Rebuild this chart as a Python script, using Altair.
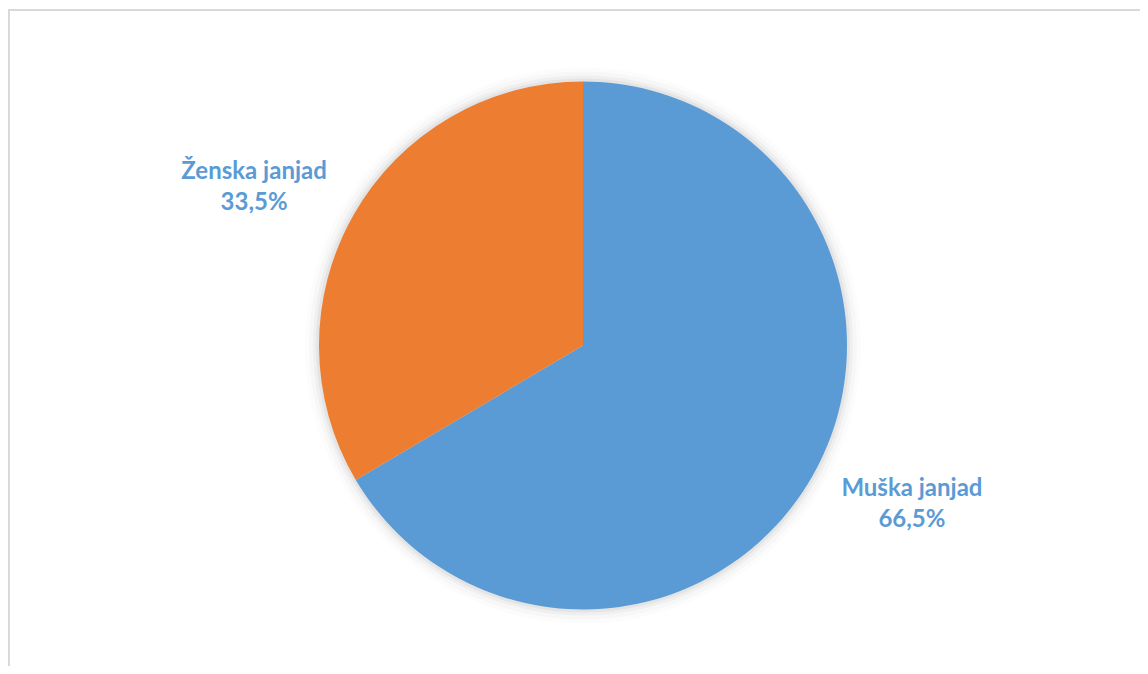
import altair as alt
import pandas as pd

categories = ["Muška janjad", "Ženska janjad"]
shares = [66.5, 33.5]
pct_labels = ["66,5%", "33,5%"]
colors = ["#5B9BD5", "#ED7D31"]

df = pd.DataFrame({
    "category": categories,
    "share": shares,
    "idx": list(range(len(categories))),
    "label": [f"{c}\n{p}" for c, p in zip(categories, pct_labels)],
})

base = alt.Chart(df).encode(
    theta=alt.Theta("share:Q", stack=True),
    order=alt.Order("idx:Q"),
)

one = pd.DataFrame({"v": [1]})
glows = [
    alt.Chart(one).mark_arc(radius=r, color="#000000", opacity=o, theta=0, theta2=6.2832).encode(
        x=alt.value(557), y=alt.value(320.5)
    )
    for r, o in [(278, 0.012), (274, 0.02), (270, 0.03), (267, 0.045)]
]

pie = base.mark_arc(radius=264).encode(
    color=alt.Color("category:N", scale=alt.Scale(domain=categories, range=colors), legend=None)
)

labels = base.mark_text(
    radius=365, thetaOffset=-0.07, dy=-15, font="Lato", fontSize=24, fontWeight="bold", color="#5B9BD5",
    lineBreak="\n", lineHeight=31, align="center", baseline="middle"
).encode(text="label:N")

top_rule = alt.Chart(one).mark_rule(color="#d9d9d9", strokeWidth=2).encode(
    x=alt.value(-18), x2=alt.value(1114), y=alt.value(-15)
)
left_rule = alt.Chart(one).mark_rule(color="#d9d9d9", strokeWidth=2).encode(
    x=alt.value(-17), y=alt.value(-15), y2=alt.value(641)
)

chart = alt.layer(*glows, pie, labels, top_rule, left_rule).properties(
    width=1114, height=641,
    padding={"left": 18, "top": 17, "right": 0, "bottom": 0},
    autosize=alt.AutoSizeParams(type="none"),
    background="#ffffff",
).configure_view(stroke=None)

chart.save("out.html", embed_options={"renderer": "svg", "actions": False})
